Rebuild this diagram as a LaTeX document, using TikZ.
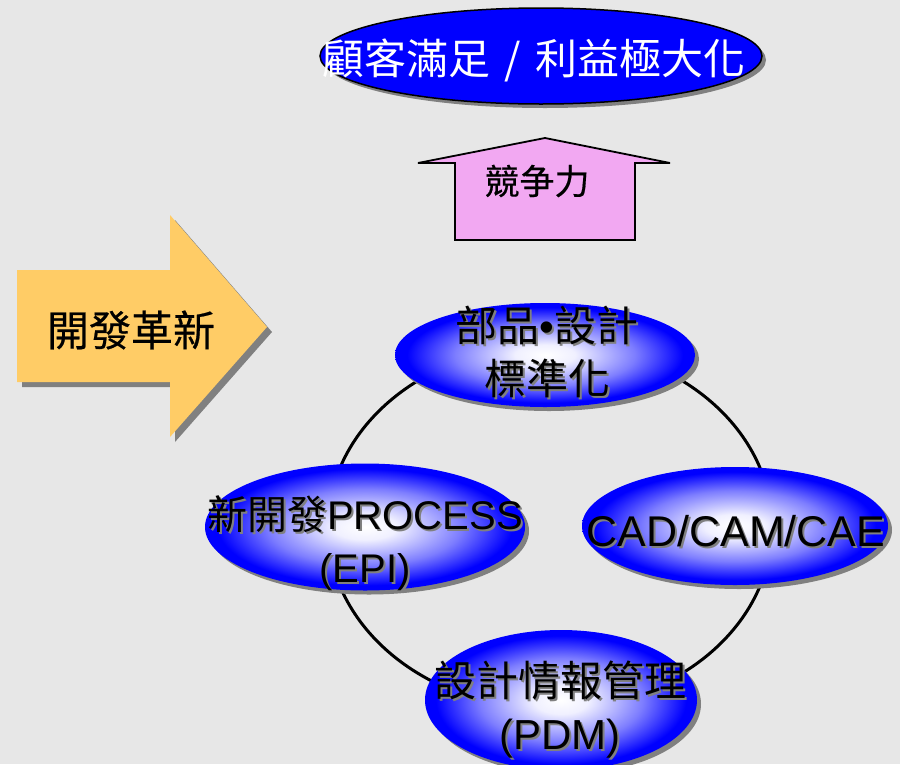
\documentclass[tikz,border=0pt]{standalone}
\usepackage{fontspec}
\setmainfont{Liberation Sans}
\newfontfamily\cjk{Noto Sans CJK TC}
\newfontfamily\cjkm[FakeBold=0.5]{Noto Sans CJK TC}
\usetikzlibrary{shapes.geometric,shadows}
\definecolor{bgc}{RGB}{231,231,231}
\definecolor{pinkc}{RGB}{242,168,242}
\definecolor{goldc}{RGB}{255,204,102}
\definecolor{shc}{RGB}{128,128,128}
\definecolor{pureblue}{RGB}{0,0,255}
\definecolor{midb}{RGB}{125,125,255}
\definecolor{paleb}{RGB}{240,240,255}
\pgfdeclareradialshading{ellshade}{\pgfpoint{0bp}{0bp}}{color(0bp)=(white); color(5bp)=(paleb); color(15bp)=(midb); color(23bp)=(pureblue); color(50bp)=(pureblue)}
\tikzset{
  bubble/.style={ellipse, inner sep=0pt, shading=ellshade,
    drop shadow={shadow xshift=4pt, shadow yshift=-4pt, fill=shc, opacity=1}},
  goalell/.style={ellipse, inner sep=0pt, draw=black, line width=1.5pt, fill=pureblue,
    drop shadow={shadow xshift=4pt, shadow yshift=-4pt, fill=shc, opacity=1}},
  lbl/.style={align=center, inner sep=0pt, font=\fontsize{42}{53}\selectfont, text=black},
  lblsh/.style={lbl, text=shc},
  ring/.style={draw=black, line width=3pt},
}
\begin{document}
\begin{tikzpicture}[x=1pt, y=-1pt]
\useasboundingbox (0,0) rectangle (900,764);
\clip (0,0) rectangle (900,764);
\fill[bgc] (0,0) rectangle (900,764);

% ring
\coordinate (ringc) at (550,527);
\draw[ring] (ringc) ellipse [x radius=222, y radius=182];

% goal ellipse
\node[goalell, minimum width=442pt, minimum height=96pt] (goal) at (541,56) {};
\node[inner sep=0pt, text=white, font=\fontsize{42}{50}\selectfont\cjk] (goalT) at (534,60) {顧客滿足\hspace{14pt}/\hspace{14pt}利益極大化};

% up arrow
\draw[fill=pinkc, line width=1.8pt, line join=miter] (455,240) -- (455,163) -- (418,163) -- (545,138) -- (670,163) -- (635,163) -- (635,240) -- cycle;
\node[inner sep=0pt, font=\fontsize{35}{40}\selectfont\cjkm] (comp) at (537,181) {競争力};

% left arrow
\fill[shc] (22,275) -- (175,275) -- (175,220) -- (272,332) -- (175,442) -- (175,387) -- (22,387) -- cycle;
\fill[goldc] (17,270) -- (170,270) -- (170,215) -- (267,327) -- (170,437) -- (170,382) -- (17,382) -- cycle;
\node[inner sep=0pt, font=\fontsize{42}{50}\selectfont\cjkm] (inno) at (131,330) {開發革新};

% bubbles
\node[bubble, minimum width=300pt, minimum height=104pt] (std) at (545,355) {};
\node[bubble, minimum width=320pt, minimum height=127pt] (epi) at (365,527) {};
\node[bubble, minimum width=306pt, minimum height=118pt] (cad) at (735,526) {};
\node[bubble, minimum width=272pt, minimum height=140pt] (pdm) at (561,700) {};

% labels (gray drop shadow, then black text)
\node[lblsh] at (549,354) {{\cjk 部品}•{\cjk 設計}\\{\cjk 標準化}};
\node[lbl] (stdT) at (547,352) {{\cjk 部品}•{\cjk 設計}\\{\cjk 標準化}};
\node[lblsh, font=\fontsize{40}{53}\selectfont] at (367,545) {{\cjk 新開發}PROCESS\\(EPI)};
\node[lbl, font=\fontsize{40}{53}\selectfont] (epiT) at (365,543) {{\cjk 新開發}PROCESS\\(EPI)};
\node[lblsh, font=\fontsize{43}{53}\selectfont] at (738,533) {CAD/CAM/CAE};
\node[lbl, font=\fontsize{43}{53}\selectfont] (cadT) at (736,531) {CAD/CAM/CAE};
\node[lblsh] at (562,712) {{\cjk 設計情報管理}\\(PDM)};
\node[lbl] (pdmT) at (560,710) {{\cjk 設計情報管理}\\(PDM)};
\end{tikzpicture}
\end{document}
